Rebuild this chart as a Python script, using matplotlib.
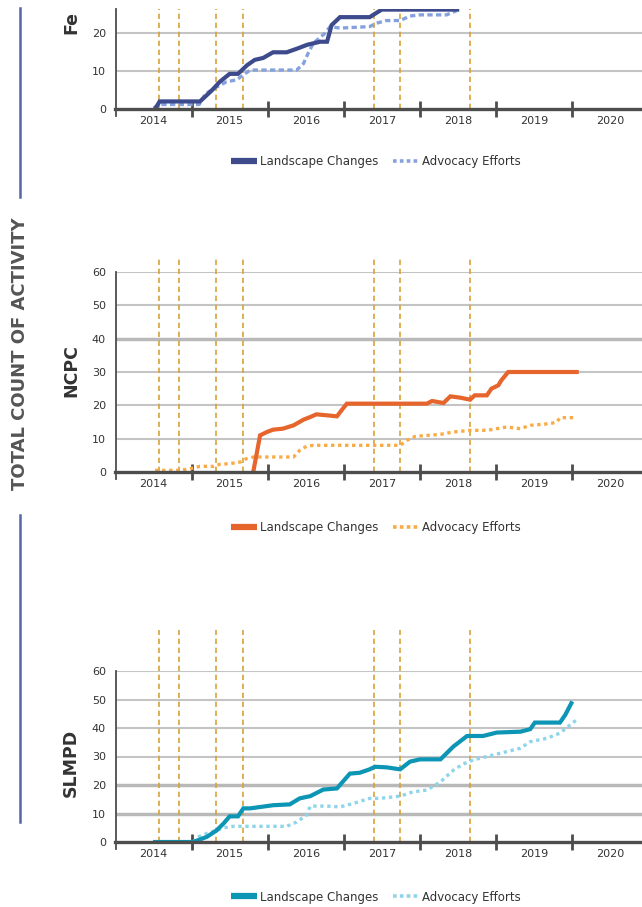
import matplotlib
matplotlib.use("Agg")
import matplotlib.pyplot as plt
from matplotlib.lines import Line2D

# ---------------- data ----------------
year_labels = ["2014", "2015", "2016", "2017", "2018", "2019", "2020"]
year_starts = [2014, 2015, 2016, 2017, 2018, 2019, 2020]
event_dates = [2014.578, 2014.828, 2015.321, 2015.679, 2017.397, 2017.738, 2018.659]

fer_land_t = [2014.52, 2014.58, 2015.11, 2015.18, 2015.27, 2015.37, 2015.50, 2015.61, 2015.73,
              2015.83, 2015.94, 2016.07, 2016.25, 2016.39, 2016.52, 2016.69, 2016.78, 2016.84,
              2016.95, 2017.34, 2017.45, 2017.50, 2018.49]
fer_land_v = [0, 2, 2, 3.3, 5, 7.2, 9.3, 9.3, 11.6, 13, 13.5, 15, 15, 16, 17, 17.8, 17.8, 22.2,
              24.3, 24.3, 25.7, 26.3, 26.3]
fer_adv_t = [2014.50, 2014.58, 2015.10, 2015.18, 2015.30, 2015.46, 2015.59, 2015.68, 2015.77,
             2016.38, 2016.47, 2016.53, 2016.60, 2016.75, 2016.82, 2016.95, 2017.34, 2017.43,
             2017.56, 2017.74, 2017.87, 2018.00, 2018.35, 2018.48]
fer_adv_v = [0.3, 1.2, 1.2, 4.0, 5.5, 7.2, 7.7, 9.0, 10.3, 10.3, 12.0, 14.7, 17.4, 20.0, 21.8,
             21.4, 21.8, 22.7, 23.4, 23.4, 24.6, 24.9, 24.9, 26.0]

ncpc_land_t = [2015.81, 2015.90, 2015.99, 2016.07, 2016.20, 2016.34, 2016.47, 2016.56, 2016.64,
               2016.78, 2016.91, 2016.97, 2017.04, 2018.09, 2018.16, 2018.31, 2018.40, 2018.53,
               2018.66, 2018.72, 2018.88, 2018.94, 2019.03, 2019.07, 2019.16, 2020.06]
ncpc_land_v = [0, 11, 12, 12.7, 13, 14, 15.7, 16.5, 17.3, 17, 16.7, 18.5, 20.5, 20.5, 21.3, 20.7,
               22.7, 22.3, 21.7, 23, 23, 25, 26, 27.5, 30, 30]
ncpc_adv_t = [2014.52, 2014.85, 2014.98, 2015.11, 2015.29, 2015.37, 2015.50, 2015.64, 2015.72,
              2015.81, 2016.34, 2016.42, 2016.51, 2016.60, 2017.74, 2017.83, 2017.94, 2018.27,
              2018.44, 2018.66, 2018.88, 2019.01, 2019.14, 2019.32, 2019.45, 2019.71, 2019.80,
              2019.84, 2020.06]
ncpc_adv_v = [0.5, 0.5, 1, 1.7, 1.7, 2.3, 2.5, 3, 4, 4.5, 4.5, 6.5, 7.7, 8, 8, 9.5, 10.7, 11.3,
              12, 12.5, 12.5, 13, 13.5, 13, 14, 14.5, 15, 16.3, 16.3]

slmpd_land_t = [2014.52, 2015.02, 2015.20, 2015.33, 2015.42, 2015.50, 2015.61, 2015.68, 2015.77,
                2016.07, 2016.29, 2016.42, 2016.56, 2016.73, 2016.91, 2017.08, 2017.21, 2017.34,
                2017.41, 2017.56, 2017.74, 2017.87, 2018.00, 2018.27, 2018.44, 2018.62, 2018.83,
                2019.01, 2019.32, 2019.45, 2019.51, 2019.84, 2019.91, 2019.99]
slmpd_land_v = [0, 0, 1.8, 4.1, 6.5, 9, 9, 11.8, 11.8, 12.9, 13.2, 15.3, 16.1, 18.4, 18.8, 24,
                24.3, 25.5, 26.4, 26.2, 25.5, 28.2, 29, 29, 33.5, 37.2, 37.2, 38.4, 38.7, 39.6,
                41.9, 41.9, 44.6, 48.7]
slmpd_adv_t = [2015.02, 2015.09, 2015.20, 2015.33, 2015.42, 2015.55, 2016.25, 2016.38, 2016.51,
               2016.56, 2016.78, 2016.95, 2017.12, 2017.34, 2017.47, 2017.74, 2017.91, 2018.09,
               2018.27, 2018.44, 2018.57, 2018.70, 2018.96, 2019.14, 2019.32, 2019.45, 2019.67,
               2019.84, 2020.06]
slmpd_adv_v = [0, 1.8, 3, 4.1, 5, 5.5, 5.5, 7, 9.4, 12.6, 12.6, 12.3, 13.5, 15.3, 15.3, 16.1,
               17.6, 18.2, 21.1, 25.2, 27.4, 28.8, 30.5, 31.7, 32.9, 35.2, 36.4, 38.2, 42.9]

series_names = ["Landscape Changes", "Advocacy Efforts"]
panel_labels = ["Fe", "NCPC", "SLMPD"]

# ---------------- layout ----------------
W, H = 642, 907
fig = plt.figure(figsize=(W / 100, H / 100), dpi=100)
fig.patch.set_facecolor("white")

AX_LEFT = 115.5
PX_PER_YEAR = 76.1
EVENT_COLOR = "#d8a23a"
GRID_COLOR = "#c4c4c4"
AXIS_COLOR = "#4d4d4d"
TEXT_COLOR = "#333333"


def make_axes(bottom_px, top_px):
    return fig.add_axes([AX_LEFT / W, 1 - bottom_px / H,
                         7 * PX_PER_YEAR / W, (bottom_px - top_px) / H])


panels = [
    dict(bottom=109, top=9, ymax=(109 - 9) / 3.78, yticks=[0, 10, 20], thick=[],
         event_top=None, label=panel_labels[0], label_y=34, label_va="bottom", legend_y=162,
         land=(fer_land_t, fer_land_v), adv=(fer_adv_t, fer_adv_v),
         c1="#3d4b8c", c2="#86a2de", adv_dash=(0, (1.6, 1.0))),
    dict(bottom=472, top=272, ymax=60, yticks=[0, 10, 20, 30, 40, 50, 60], thick=[40],
         event_top=64.3, label=panel_labels[1], label_y=371, label_va="center", legend_y=528,
         land=(ncpc_land_t, ncpc_land_v), adv=(ncpc_adv_t, ncpc_adv_v),
         c1="#e6652c", c2="#fbab45", adv_dash=(0, (1.0, 1.1))),
    dict(bottom=842, top=671, ymax=60, yticks=[0, 10, 20, 30, 40, 50, 60], thick=[10, 20],
         event_top=74.4, label=panel_labels[2], label_y=763, label_va="center", legend_y=897,
         land=(slmpd_land_t, slmpd_land_v), adv=(slmpd_adv_t, slmpd_adv_v),
         c1="#0c95b4", c2="#8ed4ea", adv_dash=(0, (1.0, 1.1))),
]

for p in panels:
    ax = make_axes(p["bottom"], p["top"])
    ax.set_xlim(2014, 2021)
    ax.set_ylim(0, p["ymax"])
    ax.set_facecolor("none")

    # gridlines
    for yv in p["yticks"][1:]:
        if yv <= p["ymax"]:
            lw = 2.5 if yv in p["thick"] else 1.5
            col = "#b9b9b9" if yv in p["thick"] else GRID_COLOR
            ax.axhline(yv, color=col, lw=lw, zorder=1)

    # event lines
    etop = p["event_top"] if p["event_top"] is not None else p["ymax"]
    ax.vlines(event_dates, 0, etop, colors=EVENT_COLOR, lw=1.2,
              linestyles=(0, (3.2, 2.2)), zorder=2, clip_on=False)

    # data
    ax.plot(p["adv"][0], p["adv"][1], color=p["c2"], lw=2.4, ls=p["adv_dash"],
            zorder=3, solid_capstyle="butt")
    ax.plot(p["land"][0], p["land"][1], color=p["c1"], lw=3.0, zorder=4,
            solid_joinstyle="miter")

    # spines
    for s in ["top", "right"]:
        ax.spines[s].set_visible(False)
    ax.spines["bottom"].set_color(AXIS_COLOR)
    ax.spines["bottom"].set_linewidth(2.4)
    ax.spines["bottom"].set_zorder(5)
    ax.spines["left"].set_color(AXIS_COLOR)
    ax.spines["left"].set_linewidth(1.3)
    ax.spines["left"].set_bounds(-7 * p["ymax"] / (p["bottom"] - p["top"]), p["ymax"])

    # ticks
    ax.set_yticks(p["yticks"])
    ax.set_yticklabels([str(v) for v in p["yticks"]])
    ax.tick_params(axis="y", length=0, pad=7, labelsize=8, labelcolor=TEXT_COLOR)
    ax.set_xticks(year_starts[1:])
    ax.set_xticklabels([])
    ax.set_xticks([y + 0.5 for y in year_starts], minor=True)
    ax.set_xticklabels(year_labels, minor=True)
    ax.tick_params(axis="x", which="major", direction="inout", length=12, width=2.0,
                   color=AXIS_COLOR)
    ax.tick_params(axis="x", which="minor", length=0, pad=5, labelsize=8,
                   labelcolor=TEXT_COLOR)

    # panel label
    fig.text(71 / W, 1 - p["label_y"] / H, p["label"], rotation=90,
             ha="center", va=p["label_va"],
             fontsize=12.5, fontweight="bold", color=TEXT_COLOR)

    # legend
    handles = [Line2D([], [], color=p["c1"], lw=4.5, solid_capstyle="butt"),
               Line2D([], [], color=p["c2"], lw=2.6, ls=(0, (1.0, 0.9)))]
    ax.legend(handles, series_names, loc="center",
              bbox_to_anchor=(376 / W, 1 - p["legend_y"] / H),
              bbox_transform=fig.transFigure, ncol=2, frameon=False, fontsize=8.5,
              handlelength=2.2, handletextpad=0.3, columnspacing=1.2, labelcolor=TEXT_COLOR)

# left decorations
fig.add_artist(Line2D([20 / W, 20 / W], [1 - 8 / H, 1 - 197 / H],
                      transform=fig.transFigure, color="#5566a2", lw=1.8))
fig.add_artist(Line2D([20 / W, 20 / W], [1 - 515 / H, 1 - 822 / H],
                      transform=fig.transFigure, color="#5566a2", lw=1.8))
fig.text(20.5 / W, 1 - 354 / H, "TOTAL COUNT OF ACTIVITY", rotation=90,
         ha="center", va="center", fontsize=13, fontweight="bold", color="#555555")

fig.savefig("out.png", dpi=100, facecolor="white")
